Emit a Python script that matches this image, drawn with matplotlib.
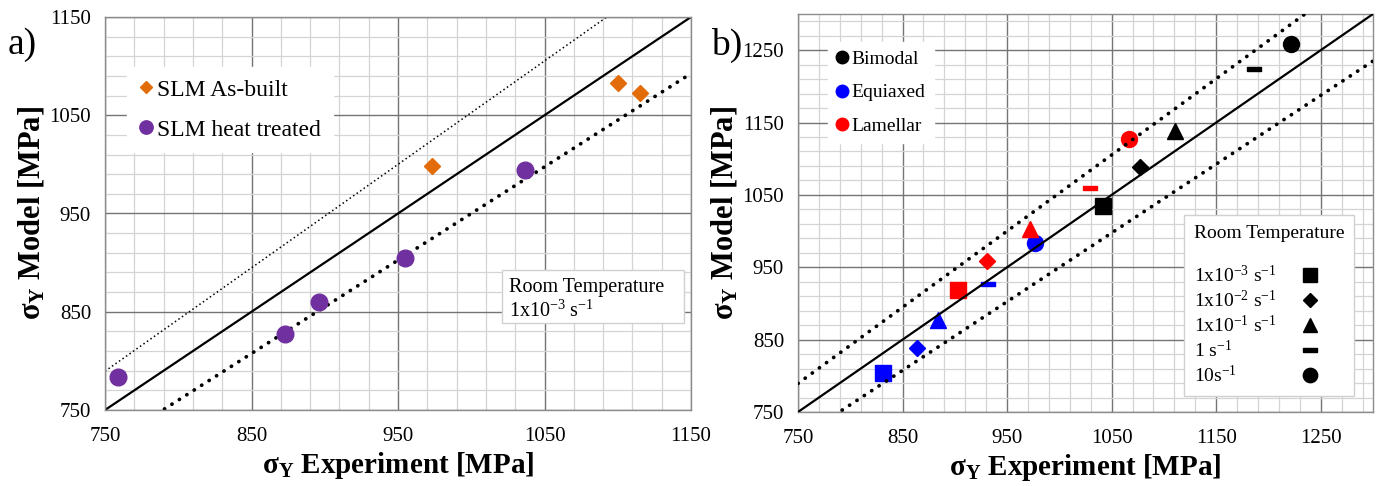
import numpy as np
import matplotlib
matplotlib.use("Agg")
import matplotlib.pyplot as plt
from matplotlib.lines import Line2D
from matplotlib.patches import Rectangle

plt.rcParams["font.family"] = ["Liberation Serif", "DejaVu Serif"]
plt.rcParams["mathtext.fontset"] = "custom"
plt.rcParams["mathtext.rm"] = "Liberation Serif"
plt.rcParams["mathtext.it"] = "Liberation Serif:italic"
plt.rcParams["mathtext.bf"] = "Liberation Serif:bold"

# ---- panel a: SLM material, room temperature, 1e-3 1/s ----
asbuilt_exp = [973, 1100, 1115]
asbuilt_model = [998, 1083, 1073]
heat_exp = [759, 873, 896, 955, 1037]
heat_model = [784, 827, 860, 905, 994]
a_ticks = [750, 850, 950, 1050, 1150]

# ---- panel b: microstructures at five strain rates ----
rate_labels = ["1x10$^{-3}$ s$^{-1}$", "1x10$^{-2}$ s$^{-1}$",
               "1x10$^{-1}$ s$^{-1}$", "1 s$^{-1}$", "10s$^{-1}$"]
micro_labels = ["Bimodal", "Equiaxed", "Lamellar"]
bimodal_exp = [1042, 1077, 1111, 1186, 1222]
bimodal_model = [1034, 1088, 1138, 1224, 1258]
equiaxed_exp = [831, 864, 884, 932, 977]
equiaxed_model = [804, 838, 877, 927, 984]
lamellar_exp = [903, 931, 972, 1029, 1067]
lamellar_model = [919, 958, 1003, 1060, 1127]
b_ticks = [750, 850, 950, 1050, 1150, 1250]

micro_colors = ["black", "#0000ff", "#ff0000"]
dash = [(-1, -0.28), (1, -0.28), (1, 0.28), (-1, 0.28), (-1, -0.28)]
rate_markers = ["s", "D", "^", dash, "o"]
rate_sizes = [11, 8, 11, 10.5, 11.5]

BAND = 0.95  # +/-5 % scatter band


def style_axes(ax, lo, hi, ticks):
    ax.set_xlim(lo, hi)
    ax.set_ylim(lo, hi)
    ax.set_xticks(ticks)
    ax.set_yticks(ticks)
    ax.set_xticks(np.arange(lo, hi + 1, 20), minor=True)
    ax.set_yticks(np.arange(lo, hi + 1, 20), minor=True)
    ax.grid(which="minor", color="#d4d4d4", lw=0.9)
    ax.grid(which="major", color="#747474", lw=1.0)
    ax.set_axisbelow(True)
    ax.tick_params(which="both", length=0, labelsize=15)
    ax.tick_params(axis="x", pad=12)
    ax.tick_params(axis="y", pad=10)
    for s in ax.spines.values():
        s.set_color("#8c8c8c")
        s.set_linewidth(1.0)
    ax.set_xlabel(r"σ$_\mathbf{Y}$ Experiment [MPa]", fontsize=21,
                  fontweight="bold", labelpad=3)
    ax.set_ylabel(r"σ$_\mathbf{Y}$ Model [MPa]", fontsize=22,
                  fontweight="bold", labelpad=2)


def reference_lines(ax, lo, hi, upper_style, lower_style, zorder):
    xs = np.array([lo, hi], dtype=float)
    ax.plot(xs, xs, color="black", lw=1.6, zorder=zorder)
    ax.plot(xs, xs / BAND, color="black", zorder=zorder, **upper_style)
    ax.plot(xs, xs * BAND, color="black", zorder=zorder, **lower_style)


fig = plt.figure(figsize=(13.8, 4.86), dpi=100)
W, H = 1380, 486
ax_a = fig.add_axes([105 / W, 1 - 410 / H, 586 / W, 393 / H])
ax_b = fig.add_axes([798 / W, 1 - 412 / H, 575 / W, 398 / H])

thick_dots = dict(lw=2.7, linestyle=(0, (0.05, 2.3)), dash_capstyle="round")
thin_dots = dict(lw=1.1, linestyle=(0, (1, 1.8)))

# ---------------- panel a ----------------
style_axes(ax_a, 750, 1150, a_ticks)
reference_lines(ax_a, 750, 1150, thin_dots, thick_dots, zorder=2)
ax_a.plot(asbuilt_exp, asbuilt_model, "D", color="#e36c0a", ms=8,
          ls="none", zorder=4, label="SLM As-built")
ax_a.plot(heat_exp, heat_model, "o", color="#7030a0", ms=12,
          ls="none", zorder=4, label="SLM heat treated")
leg_a = ax_a.legend(loc="upper left", bbox_to_anchor=(0.037, 0.872),
                    borderaxespad=0, fontsize=17, frameon=True,
                    fancybox=False, edgecolor="white", framealpha=1,
                    handlelength=0.6, handletextpad=0.2, labelspacing=0.78,
                    borderpad=0.5, markerscale=0.8)
ax_a.add_patch(Rectangle((0.677, 0.221), 0.311, 0.135,
                         transform=ax_a.transAxes, facecolor="white",
                         edgecolor="#d0d0d0", lw=1.0, zorder=5))
ax_a.text(0.69, 0.335, "Room Temperature\n1x10$^{-3}$ s$^{-1}$",
          transform=ax_a.transAxes, fontsize=14.5, va="top", ha="left",
          linespacing=1.2, zorder=6)
fig.text(8 / W, 1 - 45 / H, "a)", fontsize=27, va="center", ha="left")

# ---------------- panel b ----------------
style_axes(ax_b, 750, 1300, b_ticks)
reference_lines(ax_b, 750, 1300, thick_dots, thick_dots, zorder=5)
series = [(bimodal_exp, bimodal_model), (equiaxed_exp, equiaxed_model),
          (lamellar_exp, lamellar_model)]
for (xs, ys), col in zip(series, micro_colors):
    for x, y, m, s in zip(xs, ys, rate_markers, rate_sizes):
        ax_b.plot([x], [y], marker=m, color=col, ms=s, ls="none", zorder=4)

micro_handles = [Line2D([], [], marker="o", color=c, ls="none", ms=9)
                 for c in micro_colors]
leg_b1 = ax_b.legend(micro_handles, micro_labels, loc="upper left",
                     bbox_to_anchor=(0.052, 0.93), borderaxespad=0,
                     fontsize=14, frameon=True, fancybox=False,
                     edgecolor="white", framealpha=1, handlelength=0.6,
                     handletextpad=0.15, labelspacing=0.8, borderpad=0.45)
ax_b.add_artist(leg_b1)

rate_handles = [Line2D([], [], marker=m, color="black", ls="none", ms=s * 0.9)
                for m, s in zip(rate_markers, rate_sizes)]
leg_b2 = ax_b.legend(rate_handles, rate_labels, loc="upper left",
                     bbox_to_anchor=(0.672, 0.495), borderaxespad=0,
                     fontsize=14, title="Room Temperature\n",
                     title_fontsize=14, alignment="left", markerfirst=False,
                     frameon=True, fancybox=False, edgecolor="#d0d0d0",
                     framealpha=1, handlelength=1.4, handletextpad=1.0,
                     labelspacing=0.19, borderpad=0.5)
leg_b2.set_zorder(7)
fig.text(711 / W, 1 - 45 / H, "b)", fontsize=27, va="center", ha="left")

# keep the strain-rate labels flush left while the markers stay in one column
fig.canvas.draw()
renderer = fig.canvas.get_renderer()
widths = [t.get_window_extent(renderer).width for t in leg_b2.get_texts()]
rows = leg_b2._legend_handle_box.get_children()[0].get_children()
base_sep = leg_b2.handletextpad * leg_b2._fontsize
for row, w in zip(rows, widths):
    row.sep = base_sep + (max(widths) - w) * 72.0 / fig.dpi

fig.savefig("out.png", dpi=100)
